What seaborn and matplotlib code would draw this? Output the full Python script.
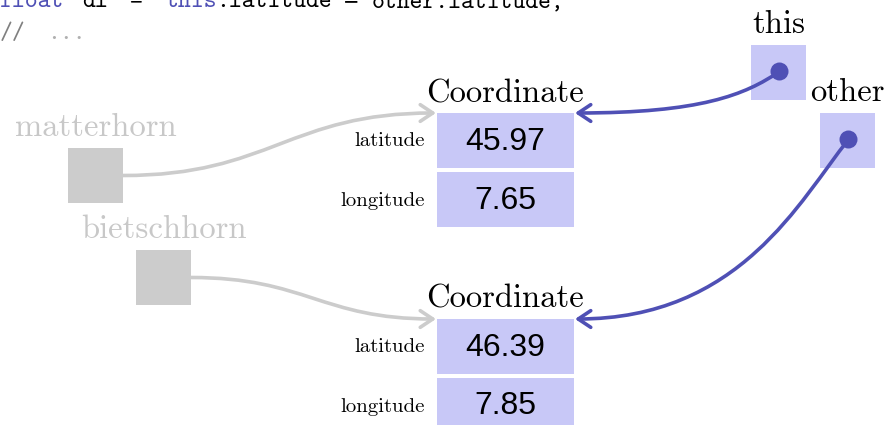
import matplotlib
matplotlib.use("Agg")
import matplotlib.pyplot as plt
import seaborn as sns
from matplotlib.patches import Rectangle, Circle, FancyArrowPatch
from matplotlib.path import Path

# data
mountains = ["matterhorn", "bietschhorn"]
latitudes = [45.97, 46.39]
longitudes = [7.65, 7.85]
field_labels = ["latitude", "longitude"]
pointers = ["this", "other"]
pointer_targets = [0, 1]   # which Coordinate each pointer refers to
code_words = ["float", "dl", "=", "this", ".latitude", "\u2212", "other.latitude;"]
code_kinds = ["kw", "plain", "plain", "kw", "plain", "op", "plain"]

# layout (pixels, y downwards)
W, H = 886, 425
cell_x, cell_w, cell_h, cell_gap = 437, 137, 55, 4
box_tops = [113, 319]
mount_sq = [(68, 148), (136, 250)]
ptr_sq = [(751, 45), (820, 113)]
sq = 55
code_x = [0, 82, 129, 165, None, 343, 372]   # None: follows the previous word

fill = "#c8c8f7"
dark = "#4f50b5"
grey = "#cccccc"

sns.set_theme(style="white")

fig = plt.figure(figsize=(W / 100, H / 100), dpi=100)
ax = fig.add_axes([0, 0, 1, 1])
ax.set_xlim(0, W)
ax.set_ylim(H, 0)
ax.axis("off")
renderer = fig.canvas.get_renderer()


def text_width(s, fs):
    t = ax.text(0, 0, s, family="cmtt10", fontsize=fs)
    w = t.get_window_extent(renderer).width
    t.remove()
    return w


# code snippet at the top (cut off by the image edge, like the original)
code_fs = 20 * 193 / text_width("other.latitude;", 20)
x_prev = 0
for word, kind, x in zip(code_words, code_kinds, code_x):
    if x is None:
        x = x_prev
    fam = "DejaVu Sans" if kind == "op" else "cmtt10"
    ax.text(x, 7, word, family=fam, fontsize=code_fs * (0.8 if kind == "op" else 1),
            color=dark if kind == "kw" else "black", va="baseline")
    x_prev = x + text_width(word, code_fs)
ax.text(0, 39, "//", family="cmtt10", fontsize=code_fs, color="#808080", va="baseline")
ax.text(47, 39, "...", family="cmtt10", fontsize=code_fs, color="#b0b0b0", va="baseline")

# Coordinate objects
values = list(zip(latitudes, longitudes))
for top, vals in zip(box_tops, values):
    ax.text(cell_x + cell_w / 2, top - 11, "Coordinate", family="cmr10", fontsize=23.5,
            ha="center", va="baseline", color="black")
    for k, (lab, v) in enumerate(zip(field_labels, vals)):
        y0 = top + k * (cell_h + cell_gap)
        ax.add_patch(Rectangle((cell_x, y0), cell_w, cell_h, facecolor=fill, edgecolor="none"))
        ax.text(cell_x + cell_w / 2, y0 + cell_h / 2 + 1, f"{v:.2f}", family="Liberation Sans",
                fontsize=23, ha="center", va="center", color="black")
        ax.text(cell_x - 12, y0 + cell_h / 2 + 6, lab, family="cmr10", fontsize=15,
                ha="right", va="baseline", color="black")

# mountain variables (grey) with arrows to coordinates
for name, (sx, sy), top in zip(mountains, mount_sq, box_tops):
    ax.add_patch(Rectangle((sx, sy), sq, sq, facecolor=grey, edgecolor="none"))
    ax.text(sx + sq / 2, sy - 12, name, family="cmr10", fontsize=23.5, ha="center",
            va="baseline", color="#c8c8c8")
    p0 = (sx + sq, sy + sq / 2)
    p3 = (cell_x - 1, top)
    dx = p3[0] - p0[0]
    path = Path([p0, (p0[0] + dx * 0.47, p0[1]), (p0[0] + dx * 0.53, p3[1]), p3],
                [Path.MOVETO, Path.CURVE4, Path.CURVE4, Path.CURVE4])
    ax.add_patch(FancyArrowPatch(path=path, arrowstyle="->,head_length=0.45,head_width=0.3",
                                 mutation_scale=20, lw=2.6, color=grey))

# pointer variables (this / other)
ctrl = [((745, 95), (700, 113)), ((800, 200), (740, 319))]
for name, (sx, sy), t, (c1, c2) in zip(pointers, ptr_sq, pointer_targets, ctrl):
    ax.add_patch(Rectangle((sx, sy), sq, sq, facecolor=fill, edgecolor="none"))
    ax.text(sx + sq / 2, sy - 12, name, family="cmr10", fontsize=23.5, ha="center",
            va="baseline", color="black")
    cx, cy = sx + sq / 2 + 1, sy + sq / 2 - 1
    p3 = (cell_x + cell_w + 1, box_tops[t])
    path = Path([(cx, cy), c1, c2, p3], [Path.MOVETO, Path.CURVE4, Path.CURVE4, Path.CURVE4])
    ax.add_patch(FancyArrowPatch(path=path, arrowstyle="->,head_length=0.45,head_width=0.3",
                                 mutation_scale=20, lw=2.6, color=dark))
    ax.add_patch(Circle((cx, cy), 9, facecolor=dark, edgecolor="none", zorder=5))

fig.savefig("out.png", dpi=100)
